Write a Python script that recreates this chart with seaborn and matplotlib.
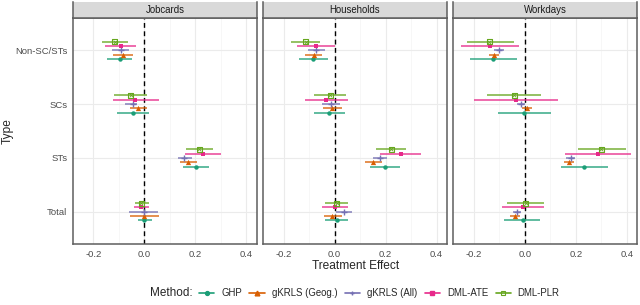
import numpy as np
import pandas as pd
import matplotlib
matplotlib.use("Agg")
import matplotlib.pyplot as plt
from matplotlib.lines import Line2D
import seaborn as sns

# Data
outcomes = ["Jobcards", "Households", "Workdays"]
types = ["Non-SC/STs", "SCs", "STs", "Total"]
methods = ["GHP", "gKRLS (Geog.)", "gKRLS (All)", "DML-ATE", "DML-PLR"]

# rows = methods (order above), columns = types
jobcards_est = [[-0.097, -0.044, 0.201, 0.000],
                [-0.084, -0.026, 0.172, -0.003],
                [-0.093, -0.044, 0.156, -0.003],
                [-0.093, -0.035, 0.231, -0.012],
                [-0.117, -0.054, 0.215, -0.012]]
jobcards_lo = [[-0.145, -0.109, 0.153, -0.026],
               [-0.122, -0.058, 0.140, -0.058],
               [-0.128, -0.077, 0.130, -0.061],
               [-0.154, -0.123, 0.160, -0.042],
               [-0.165, -0.119, 0.163, -0.038]]
jobcards_hi = [[-0.048, 0.018, 0.253, 0.030],
               [-0.044, 0.010, 0.205, 0.056],
               [-0.061, -0.029, 0.186, 0.052],
               [-0.031, 0.056, 0.302, 0.017],
               [-0.065, 0.010, 0.270, 0.017]]

households_est = [[-0.084, -0.022, 0.197, 0.008],
                  [-0.082, -0.009, 0.152, -0.009],
                  [-0.071, -0.013, 0.179, 0.035],
                  [-0.074, -0.032, 0.259, 0.001],
                  [-0.114, -0.017, 0.223, 0.009]]
households_lo = [[-0.139, -0.080, 0.139, -0.037],
                 [-0.117, -0.045, 0.119, -0.043],
                 [-0.104, -0.049, 0.149, 0.004],
                 [-0.146, -0.117, 0.179, -0.048],
                 [-0.171, -0.080, 0.164, -0.036]]
households_hi = [[-0.026, 0.042, 0.255, 0.053],
                 [-0.048, 0.030, 0.185, 0.028],
                 [-0.039, 0.022, 0.207, 0.067],
                 [0.000, 0.053, 0.339, 0.052],
                 [-0.056, 0.045, 0.281, 0.052]]

workdays_est = [[-0.123, -0.002, 0.232, -0.009],
                [-0.120, 0.008, 0.172, -0.040],
                [-0.101, -0.014, 0.181, -0.031],
                [-0.136, -0.035, 0.286, -0.008],
                [-0.139, -0.041, 0.300, 0.004]]
workdays_lo = [[-0.213, -0.106, 0.142, -0.082],
               [-0.139, -0.012, 0.152, -0.060],
               [-0.119, -0.031, 0.163, -0.048],
               [-0.250, -0.199, 0.156, -0.090],
               [-0.228, -0.147, 0.209, -0.071]]
workdays_hi = [[-0.031, 0.104, 0.325, 0.060],
               [-0.100, 0.030, 0.194, -0.018],
               [-0.081, 0.001, 0.198, -0.014],
               [-0.021, 0.129, 0.415, 0.076],
               [-0.044, 0.064, 0.395, 0.077]]

xticks = [-0.2, 0.0, 0.2, 0.4]
xtick_labels = ["-0.2", "0.0", "0.2", "0.4"]

panel_data = {
    "Jobcards": (jobcards_est, jobcards_lo, jobcards_hi),
    "Households": (households_est, households_lo, households_hi),
    "Workdays": (workdays_est, workdays_lo, workdays_hi),
}

rows = []
for o in outcomes:
    est, lo, hi = panel_data[o]
    for mi, m in enumerate(methods):
        for ti, t in enumerate(types):
            rows.append(dict(outcome=o, method=m, type=t, mi=mi, ti=ti,
                             est=est[mi][ti], lo=lo[mi][ti], hi=hi[mi][ti]))
df = pd.DataFrame(rows)
# dodge: DML-PLR on top, GHP at bottom
dodge = 0.08
df["ypos"] = df["ti"] + (2 - df["mi"]) * dodge

palette = dict(zip(methods, ["#1B9E77", "#D95F02", "#7570B3", "#E7298A", "#66A61E"]))
markers = dict(zip(methods, ["o", "^", "+", "s", "s"]))
msize = dict(zip(methods, [3.2, 3.8, 3.6, 3.5, 3.6]))

sns.set_theme(style="whitegrid")
plt.rcParams["font.family"] = ["Liberation Sans", "DejaVu Sans"]

fig, axes = plt.subplots(1, 3, figsize=(6.4, 3.05), dpi=100, sharex=True, sharey=True)
fig.subplots_adjust(left=73/640, right=637/640, top=1-18/305, bottom=1-244/305, wspace=0.036)

border = "#5e5e5e"
for ax, o in zip(axes, outcomes):
    sub = df[df["outcome"] == o]
    ax.set_facecolor("white")
    ax.axvline(0, color="black", ls=(0, (3.5, 2.5)), lw=1.0, zorder=2)
    for _, r in sub.iterrows():
        ax.hlines(r["ypos"], r["lo"], r["hi"], color=palette[r["method"]],
                  lw=1.3, alpha=0.75, zorder=3)
    for m in methods:
        s = sub[sub["method"] == m]
        if m == "DML-PLR":
            sns.scatterplot(data=s, x="est", y="ypos", ax=ax, marker="s",
                            s=13, facecolor="none", edgecolor=palette[m],
                            linewidth=0.8, zorder=4, legend=False)
            sns.scatterplot(data=s, x="est", y="ypos", ax=ax, marker="x",
                            s=7, color=palette[m], linewidth=0.6,
                            zorder=4, legend=False)
        elif m == "gKRLS (All)":
            sns.scatterplot(data=s, x="est", y="ypos", ax=ax, marker="+",
                            s=13, color=palette[m], linewidth=1.0,
                            zorder=4, legend=False)
        else:
            sns.scatterplot(data=s, x="est", y="ypos", ax=ax, marker=markers[m],
                            s=msize[m] ** 2, color=palette[m], linewidth=0,
                            zorder=4, legend=False)
    ax.set_xlim(-0.28, 0.44)
    ax.set_ylim(3.6, -0.6)
    ax.set_xticks(xticks)
    ax.set_xticklabels(xtick_labels)
    ax.set_xticks([-0.1, 0.1, 0.3], minor=True)
    ax.set_yticks(range(len(types)))
    ax.set_yticklabels(types)
    ax.grid(True, which="major", color="#ebebeb", lw=0.8)
    ax.grid(True, which="minor", axis="x", color="#f4f4f4", lw=0.5)
    ax.set_axisbelow(True)
    ax.set_xlabel("")
    ax.set_ylabel("")
    for sp in ax.spines.values():
        sp.set_color(border)
        sp.set_linewidth(1.1)
    ax.tick_params(axis="both", which="major", length=2.5, width=0.6, color="#333333",
                   labelsize=6.8, labelcolor="#4d4d4d", pad=1.5)
    ax.tick_params(axis="both", which="minor", length=0)

    # facet strip
    pos = ax.get_position()
    sax = fig.add_axes([pos.x0, pos.y1, pos.width, 16/305])
    sax.set_facecolor("#d9d9d9")
    sax.set_xticks([])
    sax.set_yticks([])
    for side, sp in sax.spines.items():
        sp.set_color(border)
        sp.set_linewidth(1.1)
    sax.spines["top"].set_visible(False)
    sax.text(0.5, 0.5, o, ha="center", va="center", fontsize=6.9, color="#1a1a1a",
             transform=sax.transAxes)

for ax in axes[1:]:
    ax.tick_params(axis="y", length=0)

fig.text((263 + 448) / 2 / 640, 1 - 266/305, "Treatment Effect", ha="center", va="center",
         fontsize=8.6)
fig.text(8/640, 1 - 131/305, "Type", rotation=90, ha="center", va="center", fontsize=8.6)

handles = []
for m in methods:
    if m == "DML-PLR":
        h = Line2D([], [], color=palette[m], marker="s", mfc="none", ms=3.3, mew=0.8, lw=1.2)
    elif m == "gKRLS (All)":
        h = Line2D([], [], color=palette[m], marker="+", ms=3.5, mew=1.0, lw=1.2)
    else:
        h = Line2D([], [], color=palette[m], marker=markers[m], ms=msize[m] - 0.4, lw=1.2)
    handles.append(h)

fig.text(150/640, 1 - 293/305, "Method:", ha="left", va="center", fontsize=8.5)
fig.legend(handles, methods, loc="center left", bbox_to_anchor=(199/640, 1 - 293/305),
           ncol=5, frameon=False, fontsize=6.9, handlelength=1.6, handletextpad=0.7,
           columnspacing=0.8, borderpad=0, borderaxespad=0)

fig.savefig("out.png", dpi=100)
